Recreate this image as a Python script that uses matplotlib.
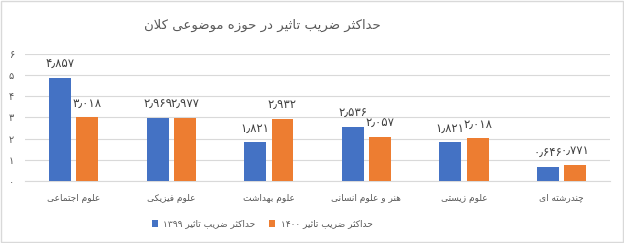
import re
import numpy as np
import matplotlib
matplotlib.use("Agg")
import matplotlib.pyplot as plt
from matplotlib.patches import Rectangle
from matplotlib.ticker import FuncFormatter

plt.rcParams['font.family'] = ['DejaVu Sans']

# data
title = "حداکثر ضریب تاثیر در حوزه موضوعی کلان"
categories = ["علوم اجتماعی", "علوم فیزیکی", "علوم بهداشت", "هنر و علوم انسانی", "علوم زیستی", "چندرشته ای"]
series_names = ["حداکثر ضریب تاثیر ۱۳۹۹", "حداکثر ضریب تاثیر ۱۴۰۰"]
vals_1399 = [4.857, 2.969, 1.821, 2.536, 1.821, 0.646]
vals_1400 = [3.018, 2.977, 2.932, 2.057, 2.018, 0.771]
yticks = [0, 1, 2, 3, 4, 5, 6]

# minimal arabic/persian shaping (matplotlib has no complex text layout)
# letter -> (isolated, final, initial, medial); None = does not join forward
FORMS = {
    'ا': ('\uFE8D', '\uFE8E', None, None),
    'ب': ('\uFE8F', '\uFE90', '\uFE91', '\uFE92'),
    'ت': ('\uFE95', '\uFE96', '\uFE97', '\uFE98'),
    'ث': ('\uFE99', '\uFE9A', '\uFE9B', '\uFE9C'),
    'ج': ('\uFE9D', '\uFE9E', '\uFE9F', '\uFEA0'),
    'ح': ('\uFEA1', '\uFEA2', '\uFEA3', '\uFEA4'),
    'خ': ('\uFEA5', '\uFEA6', '\uFEA7', '\uFEA8'),
    'د': ('\uFEA9', '\uFEAA', None, None),
    'ذ': ('\uFEAB', '\uFEAC', None, None),
    'ر': ('\uFEAD', '\uFEAE', None, None),
    'ز': ('\uFEAF', '\uFEB0', None, None),
    'س': ('\uFEB1', '\uFEB2', '\uFEB3', '\uFEB4'),
    'ش': ('\uFEB5', '\uFEB6', '\uFEB7', '\uFEB8'),
    'ص': ('\uFEB9', '\uFEBA', '\uFEBB', '\uFEBC'),
    'ض': ('\uFEBD', '\uFEBE', '\uFEBF', '\uFEC0'),
    'ط': ('\uFEC1', '\uFEC2', '\uFEC3', '\uFEC4'),
    'ع': ('\uFEC9', '\uFECA', '\uFECB', '\uFECC'),
    'ف': ('\uFED1', '\uFED2', '\uFED3', '\uFED4'),
    'ق': ('\uFED5', '\uFED6', '\uFED7', '\uFED8'),
    'ل': ('\uFEDD', '\uFEDE', '\uFEDF', '\uFEE0'),
    'م': ('\uFEE1', '\uFEE2', '\uFEE3', '\uFEE4'),
    'ن': ('\uFEE5', '\uFEE6', '\uFEE7', '\uFEE8'),
    'ه': ('\uFEE9', '\uFEEA', '\uFEEB', '\uFEEC'),
    'و': ('\uFEED', '\uFEEE', None, None),
    'ی': ('\uFBFC', '\uFBFD', '\uFBFE', '\uFBFF'),
    'ک': ('\uFB8E', '\uFB8F', '\uFB90', '\uFB91'),
    'گ': ('\uFB92', '\uFB93', '\uFB94', '\uFB95'),
    'پ': ('\uFB56', '\uFB57', '\uFB58', '\uFB59'),
    'چ': ('\uFB7A', '\uFB7B', '\uFB7C', '\uFB7D'),
}


def joins_fwd(c):
    return c in FORMS and FORMS[c][2] is not None


def shape(s):
    out = []
    i = 0
    while i < len(s):
        c = s[i]
        prev = s[i - 1] if i > 0 else ''
        after = joins_fwd(prev)
        if c == 'ل' and i + 1 < len(s) and s[i + 1] == 'ا':
            out.append('\uFEFC' if after else '\uFEFB')
            i += 2
            continue
        if c in FORMS:
            nxt = s[i + 1] if i + 1 < len(s) else ''
            before = joins_fwd(c) and nxt in FORMS
            iso, fin, ini, med = FORMS[c]
            if after and before:
                out.append(med)
            elif after:
                out.append(fin)
            elif before:
                out.append(ini)
            else:
                out.append(iso)
        else:
            out.append(c)
        i += 1
    vis = ''.join(out)[::-1]
    # digit runs stay left to right
    return re.sub('[۰-۹٫]+', lambda m: m.group(0)[::-1], vis)


fa = str.maketrans('0123456789.', '۰۱۲۳۴۵۶۷۸۹٫')

blue = '#4472C4'
orange = '#ED7D31'
grey = '#595959'

fig = plt.figure(figsize=(6.24, 2.43), dpi=100)
ax = fig.add_axes([0.04, 0.255, 0.938, 0.523])

x = np.arange(len(categories))
w = 0.225
b1 = ax.bar(x - 0.14, vals_1399, w, color=blue, label=shape(series_names[0]), zorder=3)
b2 = ax.bar(x + 0.14, vals_1400, w, color=orange, label=shape(series_names[1]), zorder=3)

for bars, vals in [(b1, vals_1399), (b2, vals_1400)]:
    for r, v in zip(bars, vals):
        ax.annotate(f"{v:.3f}".translate(fa), (r.get_x() + r.get_width() / 2, v),
                    xytext=(0, 10), textcoords='offset points', ha='center', va='center',
                    fontsize=8.5, color='#404040')

ax.set_xlim(-0.5, len(categories) - 0.5)
ax.set_ylim(0, 6)
ax.set_yticks(yticks)
ax.yaxis.set_major_formatter(FuncFormatter(lambda v, p: str(int(v)).translate(fa)))
ax.set_xticks(x)
ax.set_xticklabels([shape(c) for c in categories], fontsize=6.5, color=grey)
ax.tick_params(axis='y', labelsize=7, colors=grey, length=0, pad=8)
ax.tick_params(axis='x', length=0, pad=9)
ax.grid(axis='y', color='#d9d9d9', linewidth=0.8, zorder=0)
for s in ['top', 'right', 'left']:
    ax.spines[s].set_visible(False)
ax.spines['bottom'].set_color('#d9d9d9')

fig.text(0.42, 0.895, shape(title), ha='center', va='center', fontsize=9.5, color=grey)

fig.legend(loc='center', bbox_to_anchor=(0.42, 0.078), ncol=2, frameon=False,
           fontsize=6.5, handlelength=0.7, handleheight=0.7, columnspacing=1.5,
           handletextpad=0.6, labelcolor=grey)

fig.patches.append(Rectangle((0.002, 0.004), 0.996, 0.99, transform=fig.transFigure,
                             fill=False, edgecolor='#d9d9d9', linewidth=1))

fig.savefig("out.png", dpi=100)
